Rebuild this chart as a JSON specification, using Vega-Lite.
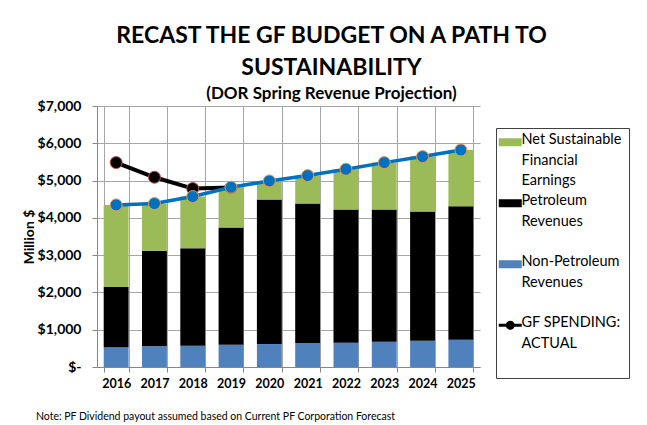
{
  "$schema": "https://vega.github.io/schema/vega-lite/v6.json",
  "width": 383,
  "height": 261,
  "autosize": {"type": "none"},
  "padding": {"left": 97, "top": 106, "right": 167, "bottom": 58},
  "background": "white",
  "config": {
    "font": "Lato",
    "view": {"stroke": null},
    "axis": {"labelFont": "Lato", "titleFont": "Lato", "labelColor": "#000", "titleColor": "#000"}
  },
  "title": {
    "text": ["RECAST THE GF BUDGET ON A PATH TO", "SUSTAINABILITY"],
    "subtitle": "(DOR Spring Revenue Projection)",
    "anchor": "middle",
    "dx": 43,
    "font": "Lato",
    "fontSize": 23,
    "fontWeight": "bold",
    "lineHeight": 32,
    "color": "#000",
    "subtitleFont": "Lato",
    "subtitleFontSize": 17,
    "subtitleFontWeight": "bold",
    "subtitleColor": "#000",
    "subtitlePadding": 6,
    "offset": -3
  },
  "datasets": {
    "bars": [
      {"year": "2016", "series": "Non-Petroleum Revenues", "value": 530},
      {"year": "2016", "series": "Petroleum Revenues", "value": 1613},
      {"year": "2016", "series": "Net Sustainable Financial Earnings", "value": 2205},
      {"year": "2017", "series": "Non-Petroleum Revenues", "value": 554},
      {"year": "2017", "series": "Petroleum Revenues", "value": 2562},
      {"year": "2017", "series": "Net Sustainable Financial Earnings", "value": 1268},
      {"year": "2018", "series": "Non-Petroleum Revenues", "value": 571},
      {"year": "2018", "series": "Petroleum Revenues", "value": 2617},
      {"year": "2018", "series": "Net Sustainable Financial Earnings", "value": 1383},
      {"year": "2019", "series": "Non-Petroleum Revenues", "value": 598},
      {"year": "2019", "series": "Petroleum Revenues", "value": 3143},
      {"year": "2019", "series": "Net Sustainable Financial Earnings", "value": 1080},
      {"year": "2020", "series": "Non-Petroleum Revenues", "value": 616},
      {"year": "2020", "series": "Petroleum Revenues", "value": 3875},
      {"year": "2020", "series": "Net Sustainable Financial Earnings", "value": 500},
      {"year": "2021", "series": "Non-Petroleum Revenues", "value": 643},
      {"year": "2021", "series": "Petroleum Revenues", "value": 3741},
      {"year": "2021", "series": "Net Sustainable Financial Earnings", "value": 750},
      {"year": "2022", "series": "Non-Petroleum Revenues", "value": 652},
      {"year": "2022", "series": "Petroleum Revenues", "value": 3571},
      {"year": "2022", "series": "Net Sustainable Financial Earnings", "value": 1081},
      {"year": "2023", "series": "Non-Petroleum Revenues", "value": 679},
      {"year": "2023", "series": "Petroleum Revenues", "value": 3544},
      {"year": "2023", "series": "Net Sustainable Financial Earnings", "value": 1259},
      {"year": "2024", "series": "Non-Petroleum Revenues", "value": 705},
      {"year": "2024", "series": "Petroleum Revenues", "value": 3465},
      {"year": "2024", "series": "Net Sustainable Financial Earnings", "value": 1473},
      {"year": "2025", "series": "Non-Petroleum Revenues", "value": 732},
      {"year": "2025", "series": "Petroleum Revenues", "value": 3581},
      {"year": "2025", "series": "Net Sustainable Financial Earnings", "value": 1508}
    ],
    "spending": [
      {"year": "2016", "series": "GF SPENDING: ACTUAL", "value": 5482},
      {"year": "2017", "series": "GF SPENDING: ACTUAL", "value": 5089},
      {"year": "2018", "series": "GF SPENDING: ACTUAL", "value": 4786},
      {"year": "2019", "series": "GF SPENDING: ACTUAL", "value": 4815}
    ],
    "total": [
      {"year": "2016", "value": 4348},
      {"year": "2017", "value": 4384},
      {"year": "2018", "value": 4571},
      {"year": "2019", "value": 4821},
      {"year": "2020", "value": 4991},
      {"year": "2021", "value": 5134},
      {"year": "2022", "value": 5304},
      {"year": "2023", "value": 5482},
      {"year": "2024", "value": 5643},
      {"year": "2025", "value": 5821}
    ]
  },
  "encoding": {
    "x": {
      "field": "year",
      "type": "ordinal",
      "scale": {"paddingInner": 0.35, "paddingOuter": 0.175},
      "axis": {
        "title": "Note: PF Dividend payout assumed based on Current PF Corporation Forecast",
        "titleX": 118,
        "titleY": 49,
        "titleAlign": "center",
        "titleBaseline": "middle",
        "titleFontSize": 10.5,
        "titleFontWeight": "normal",
        "labelAngle": 0,
        "labelFontSize": 12.5,
        "labelFontWeight": "bold",
        "labelPadding": 5,
        "tickBand": "extent",
        "grid": true,
        "gridColor": "#A6A6A6",
        "domainColor": "#868686",
        "tickColor": "#868686",
        "tickSize": 5
      }
    },
    "y": {
      "type": "quantitative",
      "scale": {"domain": [0, 7000]},
      "axis": {
        "title": "Million $",
        "titleFontSize": 14,
        "titleFontWeight": "bold",
        "titlePadding": 1,
        "values": [0, 1000, 2000, 3000, 4000, 5000, 6000, 7000],
        "labelExpr": "datum.value == 0 ? '$-' : '$' + format(datum.value, ',')",
        "labelFontSize": 14,
        "labelFontWeight": "bold",
        "labelPadding": 11,
        "grid": true,
        "gridColor": "#A6A6A6",
        "domainColor": "#868686",
        "tickColor": "#868686",
        "tickSize": 5
      }
    }
  },
  "layer": [
    {
      "data": {"name": "bars"},
      "transform": [
        {"calculate": "indexof(['Non-Petroleum Revenues','Petroleum Revenues','Net Sustainable Financial Earnings'], datum.series)", "as": "stackIndex"}
      ],
      "mark": {"type": "bar"},
      "encoding": {
        "y": {"field": "value", "type": "quantitative", "stack": "zero"},
        "order": {"field": "stackIndex", "type": "quantitative"},
        "color": {
          "field": "series",
          "type": "nominal",
          "scale": {
            "domain": ["Net Sustainable Financial Earnings", "Petroleum Revenues", "Non-Petroleum Revenues", "GF SPENDING: ACTUAL"],
            "range": ["#9BBB59", "#000000", "#4F81BD", "#000000"]
          },
          "legend": {
            "title": null,
            "orient": "none",
            "legendX": 399,
            "legendY": 22,
            "strokeColor": "#404040",
            "padding": 7,
            "fillColor": "white",
            "labelFont": "Lato",
            "labelFontSize": 14.5,
            "labelColor": "#000",
            "labelLimit": 200,
            "labelOffset": 4,
            "symbolSize": 100,
            "rowPadding": 5,
            "labelExpr": "datum.label == 'Net Sustainable Financial Earnings' ? ['Net Sustainable', 'Financial', 'Earnings'] : datum.label == 'Petroleum Revenues' ? ['Petroleum', 'Revenues', ' '] : datum.label == 'Non-Petroleum Revenues' ? ['Non-Petroleum', 'Revenues', ' '] : ['GF SPENDING:', 'ACTUAL', ' ']",
            "encode": {
              "labels": {"update": {"lineHeight": {"value": 20.5}, "baseline": {"value": "top"}, "dy": {"value": -9}}},
              "symbols": {"update": {
                "shape": {"signal": "datum.value == 'GF SPENDING: ACTUAL' ? 'M-2.3,-0.3H2.3V0.3H-2.3Z M-0.9,0A0.9,0.9 0 1,1 0.9,0A0.9,0.9 0 1,1 -0.9,0Z' : 'M-2.3,-0.8H2.3V0.8H-2.3Z'"},
                "fill": {"scale": "color", "field": "value"},
                "fillOpacity": {"value": 1},
                "strokeWidth": {"value": 0}
              }}
            }
          }
        }
      }
    },
    {
      "data": {"name": "spending"},
      "mark": {"type": "line", "strokeWidth": 4},
      "encoding": {
        "y": {"field": "value", "type": "quantitative"},
        "color": {"field": "series", "type": "nominal"}
      }
    },
    {
      "data": {"name": "spending"},
      "mark": {"type": "point", "filled": true, "size": 144, "fill": "#000000", "stroke": "#C0504D", "strokeWidth": 1, "opacity": 1},
      "encoding": {
        "y": {"field": "value", "type": "quantitative"}
      }
    },
    {
      "data": {"name": "total"},
      "mark": {"type": "line", "strokeWidth": 3.5, "color": "#0070C0"},
      "encoding": {
        "y": {"field": "value", "type": "quantitative"}
      }
    },
    {
      "data": {"name": "total"},
      "mark": {"type": "point", "filled": true, "size": 144, "fill": "#0070C0", "stroke": "#F79646", "strokeWidth": 1, "opacity": 1},
      "encoding": {
        "y": {"field": "value", "type": "quantitative"}
      }
    }
  ]
}
